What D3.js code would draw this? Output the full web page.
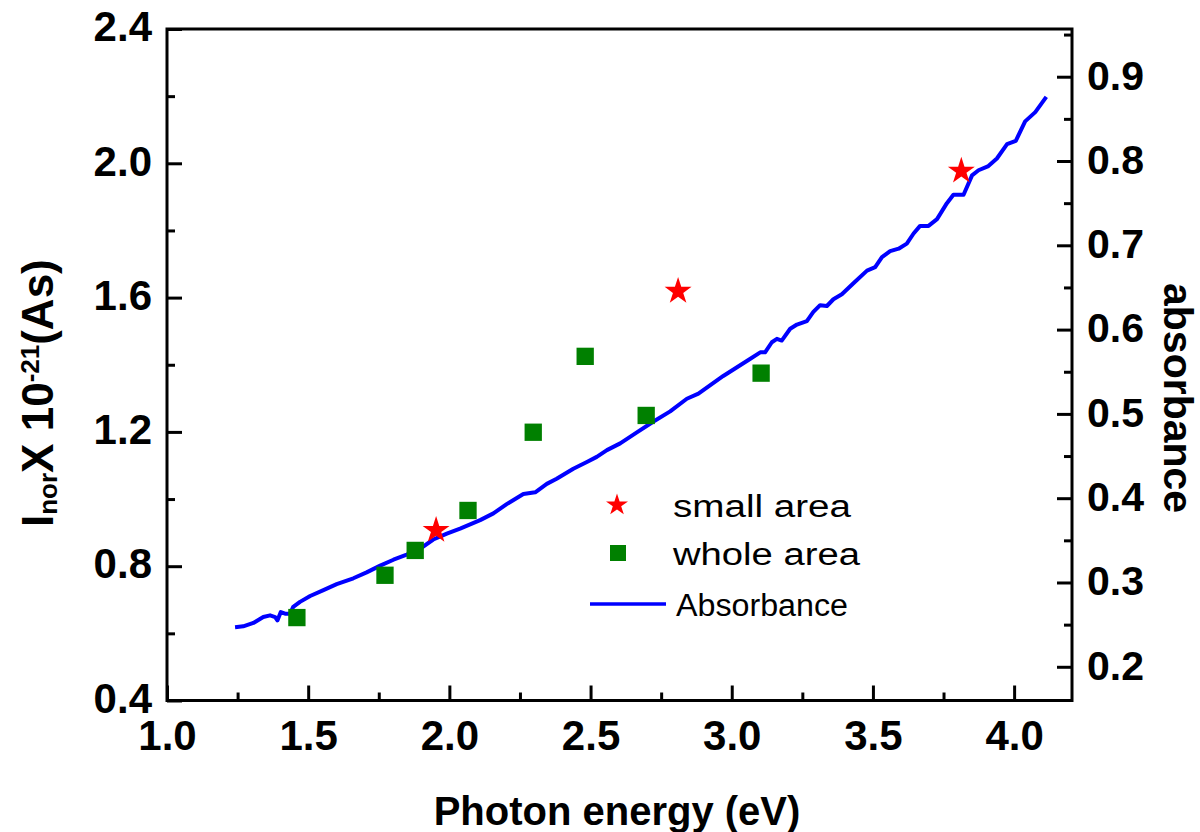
<!DOCTYPE html>
<html>
<head>
<meta charset="utf-8">
<script src="https://cdn.jsdelivr.net/npm/d3@7"></script>
<style>
  body { margin: 0; background: #fff; }
  text { font-family: "Liberation Sans", Arial, sans-serif; }
</style>
</head>
<body>
<div id="container"></div>
<script>
// small area (red stars)
const smallX = [1.953, 2.810, 3.813];
const smallY = [0.907, 1.619, 1.977];
// whole area (green squares)
const wholeX = [1.460, 1.772, 1.879, 2.066, 2.297, 2.481, 2.697, 3.104];
const wholeY = [0.647, 0.773, 0.847, 0.966, 1.199, 1.425, 1.249, 1.375];
// absorbance curve (right axis)
const absX = [1.241,1.270,1.306,1.341,1.365,1.383,1.391,1.403,1.418,1.436,
  1.447,1.471,1.507,1.554,1.601,1.660,1.707,1.755,1.802,1.849,
  1.896,1.943,1.991,2.038,2.109,2.156,2.203,2.262,2.304,2.345,
  2.380,2.439,2.487,2.522,2.558,2.605,2.664,2.723,2.782,2.841,
  2.882,2.970,3.059,3.101,3.118,3.142,3.160,3.177,3.207,3.231,
  3.266,3.289,3.313,3.337,3.360,3.390,3.431,3.479,3.508,3.532,
  3.561,3.591,3.620,3.644,3.667,3.697,3.727,3.762,3.785,3.821,
  3.851,3.874,3.909,3.939,3.975,4.006,4.039,4.075,4.114];
const absY = [0.247,0.248,0.252,0.259,0.261,0.259,0.255,0.265,0.263,0.263,
  0.271,0.277,0.284,0.291,0.298,0.305,0.312,0.320,0.327,0.333,
  0.340,0.351,0.358,0.364,0.374,0.382,0.393,0.405,0.407,0.417,
  0.423,0.435,0.443,0.449,0.457,0.465,0.478,0.491,0.503,0.518,
  0.524,0.545,0.564,0.573,0.573,0.585,0.589,0.587,0.601,0.606,
  0.610,0.621,0.629,0.628,0.636,0.642,0.655,0.670,0.674,0.686,
  0.693,0.696,0.702,0.714,0.723,0.723,0.731,0.750,0.760,0.760,
  0.783,0.789,0.794,0.803,0.820,0.824,0.847,0.858,0.876];

const xTicks = [1.0, 1.5, 2.0, 2.5, 3.0, 3.5, 4.0];
const xMinor = [1.25, 1.75, 2.25, 2.75, 3.25, 3.75];
const yTicks = [0.4, 0.8, 1.2, 1.6, 2.0, 2.4];
const yMinor = [0.6, 1.0, 1.4, 1.8, 2.2];
const rTicks = [0.2, 0.3, 0.4, 0.5, 0.6, 0.7, 0.8, 0.9];
const rMinor = [0.25, 0.35, 0.45, 0.55, 0.65, 0.75, 0.85, 0.95];
const legendLabels = ["small area", "whole area", "Absorbance"];

const WIDTH = 1200, HEIGHT = 832;
const L = 167, R = 1072, T = 29, B = 700.5;

const svg = d3.select("#container").append("svg")
  .attr("width", WIDTH).attr("height", HEIGHT);

const x = d3.scaleLinear().domain([1, 4.205]).range([L, R]);
const yL = d3.scaleLinear().domain([0.4, 2.4]).range([B, T]);
const yR = d3.scaleLinear().domain([0.16, 0.9566]).range([B, T]);

const fmt = d3.format(".1f");

function styleAxis(g, size) {
  g.select(".domain").remove();
  g.selectAll(".tick line").attr("stroke", "#000").attr("stroke-width", 3);
  g.selectAll("text")
    .attr("fill", "#000")
    .style("font-size", size + "px")
    .style("font-weight", "bold");
}

// bottom
svg.append("g").attr("transform", `translate(0,${B})`)
  .call(d3.axisBottom(x).tickValues(xTicks).tickSize(-15).tickSizeOuter(0).tickPadding(20).tickFormat(fmt))
  .call(g => styleAxis(g, 42));
svg.append("g").attr("transform", `translate(0,${B})`)
  .call(d3.axisBottom(x).tickValues(xMinor).tickSize(-8).tickSizeOuter(0).tickFormat(""))
  .call(g => styleAxis(g, 42));

// left
svg.append("g").attr("transform", `translate(${L},0)`)
  .call(d3.axisLeft(yL).tickValues(yTicks).tickSize(-15).tickSizeOuter(0).tickPadding(15).tickFormat(fmt))
  .call(g => styleAxis(g, 42))
  .selectAll("text").attr("dy", "0.28em");
svg.append("g").attr("transform", `translate(${L},0)`)
  .call(d3.axisLeft(yL).tickValues(yMinor).tickSize(-8).tickSizeOuter(0).tickFormat(""))
  .call(g => styleAxis(g, 42));

// right
svg.append("g").attr("transform", `translate(${R},0)`)
  .call(d3.axisRight(yR).tickValues(rTicks).tickSize(-15).tickSizeOuter(0).tickPadding(15).tickFormat(fmt))
  .call(g => styleAxis(g, 41))
  .selectAll("text").attr("dy", "0.3em");
svg.append("g").attr("transform", `translate(${R},0)`)
  .call(d3.axisRight(yR).tickValues(rMinor).tickSize(-8).tickSizeOuter(0).tickFormat(""))
  .call(g => styleAxis(g, 41));

// frame
svg.append("rect")
  .attr("x", L).attr("y", T).attr("width", R - L).attr("height", B - T)
  .attr("fill", "none").attr("stroke", "#000").attr("stroke-width", 3);

// absorbance line
const absData = absX.map((v, i) => [v, absY[i]]);
svg.append("path")
  .datum(absData)
  .attr("fill", "none")
  .attr("stroke", "#0000ff")
  .attr("stroke-width", 4)
  .attr("stroke-linejoin", "round")
  .attr("d", d3.line().x(d => x(d[0])).y(d => yR(d[1])));

// whole area squares
const square = d3.symbol().type(d3.symbolSquare).size(300);
svg.selectAll(".whole")
  .data(wholeX.map((v, i) => [v, wholeY[i]]))
  .enter().append("path")
  .attr("class", "whole")
  .attr("d", square)
  .attr("fill", "#008000")
  .attr("transform", d => `translate(${x(d[0])},${yL(d[1])})`);

// small area stars
const star = d3.symbol().type(d3.symbolStar).size(225);
svg.selectAll(".small")
  .data(smallX.map((v, i) => [v, smallY[i]]))
  .enter().append("path")
  .attr("class", "small")
  .attr("d", star)
  .attr("fill", "#ff0000")
  .attr("transform", d => `translate(${x(d[0])},${yL(d[1])})`);

// legend
const leg = svg.append("g");
leg.append("path").attr("d", d3.symbol().type(d3.symbolStar).size(150)).attr("fill", "#ff0000")
  .attr("transform", "translate(617,505)");
leg.append("text").attr("x", 673).attr("y", 517).text(legendLabels[0])
  .style("font-size", "31px").attr("textLength", 178).attr("lengthAdjust", "spacingAndGlyphs");
leg.append("path").attr("d", d3.symbol().type(d3.symbolSquare).size(256)).attr("fill", "#008000")
  .attr("transform", "translate(618,553)");
leg.append("text").attr("x", 673).attr("y", 565).text(legendLabels[1])
  .style("font-size", "31px").attr("textLength", 187).attr("lengthAdjust", "spacingAndGlyphs");
leg.append("line").attr("x1", 590).attr("x2", 666).attr("y1", 604).attr("y2", 604)
  .attr("stroke", "#0000ff").attr("stroke-width", 3.5);
leg.append("text").attr("x", 676).attr("y", 616).text(legendLabels[2])
  .style("font-size", "31px").attr("textLength", 172).attr("lengthAdjust", "spacingAndGlyphs");

// x title
svg.append("text")
  .attr("x", 617).attr("y", 825)
  .attr("text-anchor", "middle")
  .style("font-size", "40px").style("font-weight", "bold")
  .text("Photon energy (eV)");

// left title
const lt = svg.append("text")
  .attr("transform", "translate(53,527) rotate(-90)")
  .style("font-weight", "bold");
lt.append("tspan").text("I").style("font-size", "44px");
lt.append("tspan").text("nor").style("font-size", "26px").attr("dy", 4);
lt.append("tspan").text("X 10").style("font-size", "44px").attr("dy", -4);
lt.append("tspan").text("-21").style("font-size", "26px").attr("dy", -14);
lt.append("tspan").text("(As)").style("font-size", "44px").attr("dy", 14);

// right title
svg.append("text")
  .attr("transform", "translate(1164,283) rotate(90)")
  .style("font-size", "41px").style("font-weight", "bold")
  .text("absorbance");
</script>
</body>
</html>
